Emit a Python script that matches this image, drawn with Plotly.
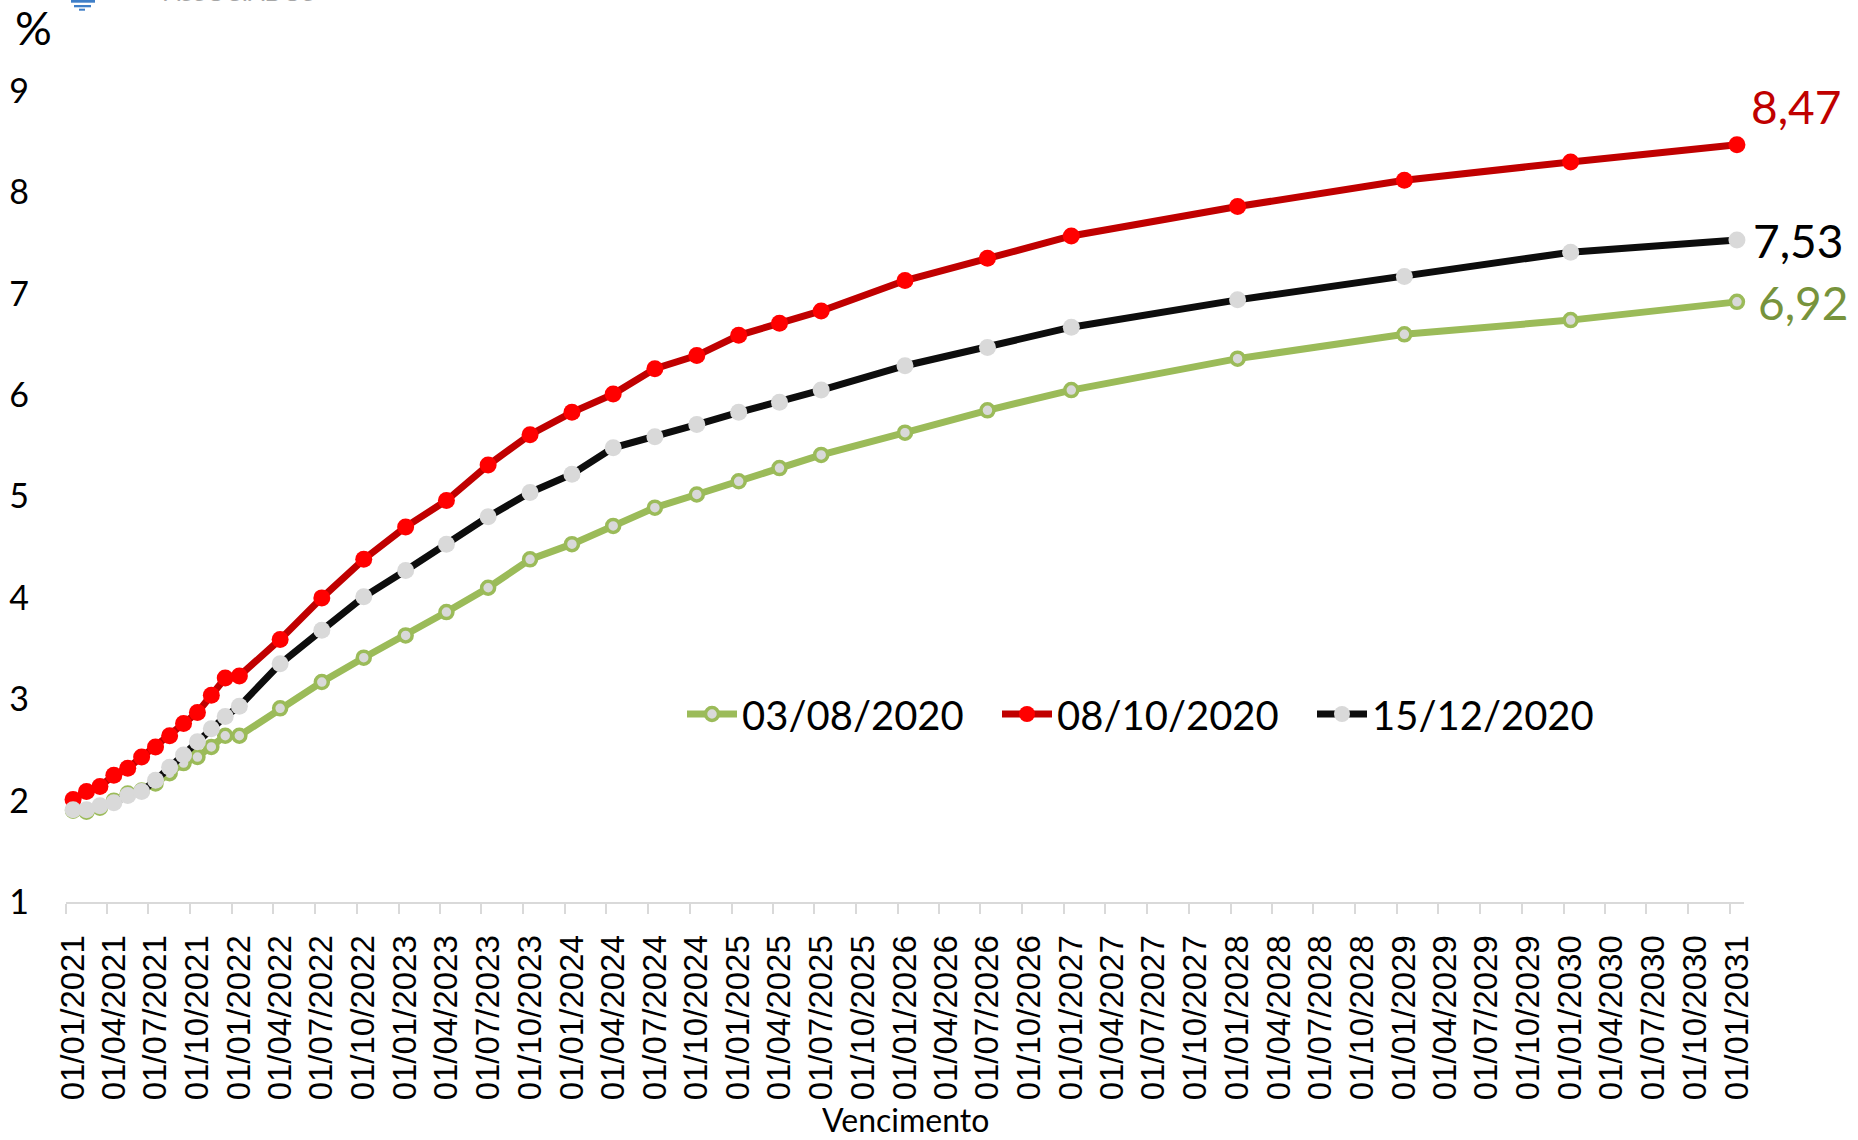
import pandas as pd
import plotly.graph_objects as go

# Vencimentos dos contratos (primeiro dia do mês de vencimento)
vencimentos = [
    "01/01/2021", "01/02/2021", "01/03/2021", "01/04/2021", "01/05/2021",
    "01/06/2021", "01/07/2021", "01/08/2021", "01/09/2021", "01/10/2021",
    "01/11/2021", "01/12/2021", "01/01/2022", "01/04/2022", "01/07/2022",
    "01/10/2022", "01/01/2023", "01/04/2023", "01/07/2023", "01/10/2023",
    "01/01/2024", "01/04/2024", "01/07/2024", "01/10/2024", "01/01/2025",
    "01/04/2025", "01/07/2025", "01/01/2026", "01/07/2026", "01/01/2027",
    "01/01/2028", "01/01/2029", "01/01/2030", "01/01/2031",
]

# Taxas (% a.a.) por data de referência
taxa_03_08_2020 = [
    1.90, 1.89, 1.93, 2.00, 2.07, 2.10, 2.17, 2.27, 2.37, 2.43,
    2.53, 2.64, 2.64, 2.91, 3.17, 3.41, 3.63, 3.86, 4.10, 4.38,
    4.53, 4.71, 4.89, 5.02, 5.15, 5.28, 5.41, 5.63, 5.85, 6.05,
    6.36, 6.60, 6.74, 6.92,
]
taxa_08_10_2020 = [
    2.01, 2.09, 2.14, 2.25, 2.32, 2.43, 2.53, 2.64, 2.76, 2.87,
    3.04, 3.21, 3.23, 3.59, 4.00, 4.38, 4.70, 4.96, 5.31, 5.61,
    5.83, 6.01, 6.26, 6.39, 6.59, 6.71, 6.83, 7.13, 7.35, 7.57,
    7.86, 8.12, 8.30, 8.47,
]
taxa_15_12_2020 = [
    1.91, 1.91, 1.95, 1.98, 2.05, 2.09, 2.20, 2.33, 2.45, 2.58,
    2.71, 2.83, 2.93, 3.35, 3.68, 4.01, 4.27, 4.53, 4.80, 5.04,
    5.22, 5.48, 5.59, 5.71, 5.83, 5.93, 6.05, 6.29, 6.47, 6.67,
    6.94, 7.17, 7.41, 7.53,
]

datas_referencia = ["03/08/2020", "08/10/2020", "15/12/2020"]
y_ticks = [1, 2, 3, 4, 5, 6, 7, 8, 9]

# Each point sits in the middle of its maturity month
inicio = pd.to_datetime(vencimentos, format="%d/%m/%Y")
fim = inicio + pd.offsets.MonthBegin(1)
x_meio = inicio + (fim - inicio) / 2

W, H = 1858, 1140
ML, MR, MT, MB = 66, 114, 91, 238
PW, PH = W - ML - MR, H - MT - MB


def px_x(x):
    return (x - ML) / PW


def px_y(y):
    return (H - MB - y) / PH


estilos = [
    dict(line=dict(color="#9bbb59", width=7),
         marker=dict(size=13, color="#d9d9d9", line=dict(color="#9bbb59", width=3.5))),
    dict(line=dict(color="#c00000", width=7),
         marker=dict(size=17, color="#ff0000", line=dict(width=0))),
    dict(line=dict(color="#0d0d0d", width=7),
         marker=dict(size=17, color="#d9d9d9", line=dict(width=0))),
]
series = [taxa_03_08_2020, taxa_08_10_2020, taxa_15_12_2020]

fig = go.Figure()
for nome, valores, est in zip(datas_referencia, series, estilos):
    fig.add_trace(go.Scatter(
        x=x_meio, y=valores, name=nome, mode="lines+markers",
        line=est["line"], marker=est["marker"], cliponaxis=False,
    ))

# Last-rate labels at the end of each curve
rotulos = [
    (taxa_03_08_2020[-1], "#77933c", 19, -1),
    (taxa_08_10_2020[-1], "#c00000", 12, 38),
    (taxa_15_12_2020[-1], "#000000", 14, 0),
]
annotations = []
for valor, cor, dx, dy in rotulos:
    annotations.append(dict(
        x=x_meio[-1], y=valor, xref="x", yref="y",
        text=f"{valor:.2f}".replace(".", ","), showarrow=False,
        xanchor="left", yanchor="middle", xshift=dx, yshift=dy,
        font=dict(family="Lato", size=46, color=cor),
    ))

annotations.append(dict(
    x=px_x(33), y=px_y(27), xref="paper", yref="paper", text="%",
    showarrow=False, xanchor="center", yanchor="middle", height=48, valign="middle",
    font=dict(family="Lato", size=46, color="black"),
))
annotations.append(dict(
    x=0.5, y=px_y(1119), xref="paper", yref="paper", text="Vencimento",
    showarrow=False, xanchor="center", yanchor="middle", height=30, valign="middle",
    font=dict(family="Lato", size=32, color="black"),
))
annotations.append(dict(
    x=px_x(162), y=px_y(8), xref="paper", yref="paper", text="ASSOCIADOS",
    showarrow=False, xanchor="left", yanchor="bottom",
    font=dict(family="Lato", size=24, color="#a6a6a6"),
))

# Small logo mark at the top edge
shapes = []
for x0, x1, y0, y1 in [(71, 95, -2, 2.7), (74, 91, 5, 7.3), (79, 85, 8.7, 10.7)]:
    shapes.append(dict(
        type="rect", xref="paper", yref="paper",
        x0=px_x(x0), x1=px_x(x1), y0=px_y(y1), y1=px_y(y0),
        fillcolor="#3f7fc8", line=dict(width=0), layer="above",
    ))

fig.update_layout(
    width=W, height=H,
    margin=dict(l=ML, r=MR, t=MT, b=MB, autoexpand=False),
    paper_bgcolor="white", plot_bgcolor="white",
    showlegend=True,
    legend=dict(
        orientation="h", x=px_x(682), y=px_y(714), xanchor="left", yanchor="middle",
        font=dict(family="Lato", size=40, color="black"),
        bgcolor="rgba(0,0,0,0)", entrywidth=250, itemwidth=50, itemsizing="trace",
    ),
    xaxis=dict(
        type="date", range=["2021-01-01", "2031-02-01"],
        tick0="2021-01-01", dtick="M3", tickformat="%d/%m/%Y", tickangle=-90,
        ticks="outside", ticklen=10, tickwidth=2, tickcolor="#d9d9d9",
        showline=True, linecolor="#d9d9d9", linewidth=2,
        showgrid=False, zeroline=False, ticklabelshift=7, ticklabelstandoff=8,
        tickfont=dict(family="Liberation Sans", size=33, color="black"),
    ),
    yaxis=dict(
        range=[1, 9], tickvals=y_ticks, showgrid=False, zeroline=False,
        showline=False, ticks="", ticklabelstandoff=36,
        tickfont=dict(family="Lato", size=34, color="black"),
    ),
    annotations=annotations,
    shapes=shapes,
)

fig.write_html("out.html")
